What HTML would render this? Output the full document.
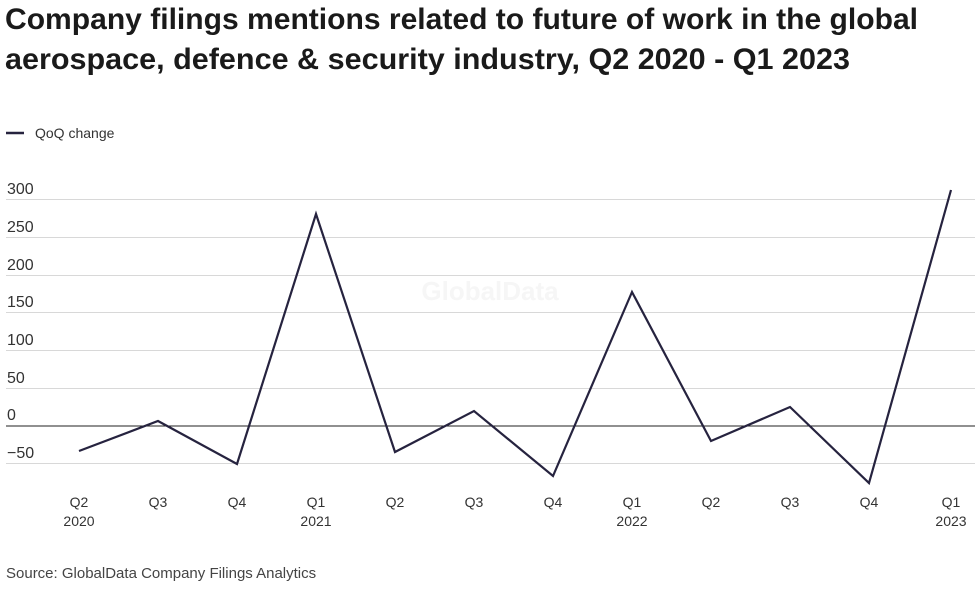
<!DOCTYPE html>
<html><head><meta charset="utf-8"><style>
body{margin:0;width:980px;height:585px;background:#fff;font-family:"Liberation Sans",sans-serif;overflow:hidden}
</style></head><body>
<svg width="980" height="585" xmlns="http://www.w3.org/2000/svg" font-family="Liberation Sans, sans-serif">
<text x="5" y="29" font-size="30" font-weight="bold" fill="#1a1a1a" textLength="913" lengthAdjust="spacingAndGlyphs">Company filings mentions related to future of work in the global</text>
<text x="5" y="69" font-size="30" font-weight="bold" fill="#1a1a1a" textLength="845" lengthAdjust="spacingAndGlyphs">aerospace, defence &amp; security industry, Q2 2020 - Q1 2023</text>
<line x1="6" y1="133" x2="24" y2="133" stroke="#26233f" stroke-width="2.5"/>
<text x="35" y="138" font-size="14" fill="#333">QoQ change</text>
<g stroke="#d8d8d8" stroke-width="1">
<line x1="6" y1="199.5" x2="975" y2="199.5"/><line x1="6" y1="237.5" x2="975" y2="237.5"/>
<line x1="6" y1="275.5" x2="975" y2="275.5"/><line x1="6" y1="312.5" x2="975" y2="312.5"/>
<line x1="6" y1="350.5" x2="975" y2="350.5"/><line x1="6" y1="388.5" x2="975" y2="388.5"/>
<line x1="6" y1="463.5" x2="975" y2="463.5"/></g>
<line x1="6" y1="426" x2="975" y2="426" stroke="#222" stroke-width="1"/>
<g font-size="16" fill="#333">
<text x="7" y="194">300</text><text x="7" y="232">250</text><text x="7" y="270">200</text>
<text x="7" y="307">150</text><text x="7" y="345">100</text><text x="7" y="383">50</text>
<text x="7" y="420">0</text><text x="7" y="458">−50</text></g>
<text x="490" y="300" font-size="26" font-weight="bold" fill="#f6f6f6" text-anchor="middle">GlobalData</text>
<polyline fill="none" stroke="#26233f" stroke-width="2.2" stroke-linejoin="miter" points="79,451 158,421 237,464 316,214 395,452 474,411 553,476 632,292 711,441 790,407 869,483 951,190"/>
<g font-size="14" fill="#333" text-anchor="middle">
<text x="79" y="507">Q2</text><text x="79" y="526">2020</text>
<text x="158" y="507">Q3</text><text x="237" y="507">Q4</text>
<text x="316" y="507">Q1</text><text x="316" y="526">2021</text>
<text x="395" y="507">Q2</text><text x="474" y="507">Q3</text><text x="553" y="507">Q4</text>
<text x="632" y="507">Q1</text><text x="632" y="526">2022</text>
<text x="711" y="507">Q2</text><text x="790" y="507">Q3</text><text x="869" y="507">Q4</text>
<text x="951" y="507">Q1</text><text x="951" y="526">2023</text></g>
<text x="6" y="578" font-size="15" fill="#444">Source: GlobalData Company Filings Analytics</text>
</svg>
</body></html>
